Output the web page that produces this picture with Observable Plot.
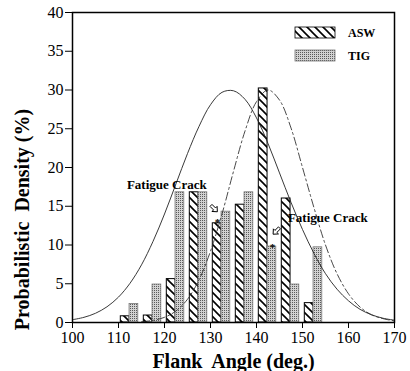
<!DOCTYPE html>
<html><head><meta charset="utf-8">
<script src="https://cdn.jsdelivr.net/npm/d3@7"></script>
<script src="https://cdn.jsdelivr.net/npm/@observablehq/plot@0.6"></script>
<style>
body{margin:0;background:#fff;}
#chart svg{display:block;}
svg text{white-space:pre;}
g[aria-label="ylabel"] text{letter-spacing:2.1px;}
</style></head><body><div id="chart"></div>
<script>
// Histogram bins (flank angle, deg.) and densities (%)
const binCenters = [112.5, 117.5, 122.5, 127.5, 132.5, 137.5, 142.5, 147.5, 152.5];
const aswDensity = [0.8, 0.9, 5.6, 16.8, 12.8, 15.2, 30.2, 16.0, 2.5];
const tigDensity = [2.4, 4.9, 16.8, 16.8, 14.3, 16.8, 9.8, 4.9, 9.7];

// Fitted curves
const tigCurveAngles = [100, 102.5, 105, 107.5, 110, 112.5, 115, 117.5, 120, 122.5, 125, 127.5, 130, 132.5, 135, 137.5, 140, 142.5, 145, 147.5, 150, 152.5, 155, 157.5, 160, 162.5, 165, 167.5, 170];
const tigCurve = [0.36, 0.67, 1.19, 2.03, 3.28, 5.06, 7.44, 10.46, 14.0, 17.9, 21.8, 25.3, 28.1, 29.7, 29.9, 28.8, 26.4, 23.1, 19.3, 15.5, 12.0, 8.9, 6.3, 4.3, 2.8, 1.7, 1.0, 0.55, 0.3];
const aswCurveAngles = [115, 117.5, 120, 122.5, 125, 127.5, 130, 132.5, 135, 137.5, 140, 142.5, 145, 147.5, 150, 152.5, 155, 157.5, 160, 162.5, 165, 167.5, 170];
const aswCurve = [0.1, 0.28, 0.67, 1.49, 3.0, 5.5, 9.2, 14.0, 19.5, 24.7, 28.5, 30.0, 28.7, 25.1, 20.0, 14.8, 10.0, 6.3, 3.7, 2.0, 1.0, 0.5, 0.2];

// Axis ticks
const xTicks = [100, 110, 120, 130, 140, 150, 160, 170];
const yTicks = [0, 5, 10, 15, 20, 25, 30, 35, 40];

// Annotations
const seriesNames = ["ASW", "TIG"];
const crackLabels = ["Fatigue Crack", "Fatigue Crack"];
const crackX = [120.5, 155.5];
const crackY = [17.8, 13.5];
const arrowX = [130.8, 144.3];
const arrowY = [14.7, 11.8];
const arrowAngle = [45, 135];
const starX = [131.5, 143.5];
const starY = [12.9, 9.7];

const asw = binCenters.map((c, i) => ({c, v: aswDensity[i]}));
const tig = binCenters.map((c, i) => ({c, v: tigDensity[i]}));
const tigLine = tigCurveAngles.map((a, i) => ({a, v: tigCurve[i]}));
const aswLine = aswCurveAngles.map((a, i) => ({a, v: aswCurve[i]}));
const cracks = crackLabels.map((t, i) => ({t, x: crackX[i], y: crackY[i]}));
const stars = starX.map((x, i) => ({x, y: starY[i]}));

// hollow block-arrow symbol, rotated by a fixed angle (degrees)
function arrowSymbol(deg) {
  const a = deg * Math.PI / 180, c = Math.cos(a), s = Math.sin(a);
  const pts = [[-4.5, -1.4], [0.5, -1.4], [0.5, -3.6], [4.5, 0], [0.5, 3.6], [0.5, 1.4], [-4.5, 1.4]];
  return {draw(ctx) {
    pts.forEach(([x, y], i) => {
      const X = x * c - y * s, Y = x * s + y * c;
      i ? ctx.lineTo(X, Y) : ctx.moveTo(X, Y);
    });
    ctx.closePath();
  }};
}

const serif = "'Liberation Serif', 'Times New Roman', serif";

const plot = Plot.plot({
  width: 410, height: 371,
  marginLeft: 72, marginRight: 16, marginTop: 12, marginBottom: 49,
  style: {fontFamily: serif, fontSize: "16px", color: "black", background: "white"},
  x: {domain: [100, 170], ticks: xTicks, tickSize: 6, tickPadding: 3, label: null},
  y: {domain: [0, 40], ticks: yTicks, tickSize: 7, tickPadding: 2, label: null},
  marks: [
    Plot.rect(asw, {x1: d => d.c - 2.0, x2: d => d.c - 0.1, y1: d => 0, y2: "v", fill: "url(#hatchASW)", stroke: "black", strokeWidth: 1}),
    Plot.rect(tig, {x1: d => d.c - 0.1, x2: d => d.c + 1.8, y1: d => 0, y2: "v", fill: "url(#stippleTIG)", stroke: "#777", strokeWidth: 0.8}),
    Plot.line(tigLine, {x: "a", y: "v", stroke: "#222", strokeWidth: 0.9, curve: "catmull-rom"}),
    Plot.line(aswLine, {x: "a", y: "v", stroke: "#333", strokeWidth: 0.9, strokeDasharray: "8,3,2,3", curve: "catmull-rom"}),
    Plot.text(cracks, {x: "x", y: "y", text: "t", fontWeight: "bold", fontSize: 13, fill: "black"}),
    ...arrowX.map((x, i) => Plot.dot([{x, y: arrowY[i]}], {x: "x", y: "y", symbol: arrowSymbol(arrowAngle[i]), r: 4, fill: "white", stroke: "black", strokeWidth: 1})),
    Plot.text(stars, {x: "x", y: "y", text: d => "*", fontSize: 11, fontWeight: "bold", fill: "black"}),
    Plot.frame({stroke: "black", strokeWidth: 1.5}),
    Plot.text(["Flank  Angle (deg.)"], {text: d => d, frameAnchor: "bottom", textAnchor: "middle", lineAnchor: "middle", dy: 39, fontSize: 20, fontWeight: "bold", fill: "black"}),
    Plot.text(["Probabilistic  Density (%)"], {text: d => d, frameAnchor: "left", textAnchor: "middle", lineAnchor: "middle", rotate: -90, dx: -50, dy: 52, fontSize: 20, fontWeight: "bold", fill: "black", ariaLabel: "ylabel"})
  ]
});

document.getElementById("chart").appendChild(plot);

const svg = d3.select(plot);
const defs = svg.insert("defs", ":first-child");
const h = defs.append("pattern").attr("id", "hatchASW").attr("patternUnits", "userSpaceOnUse").attr("width", 8).attr("height", 8);
h.append("rect").attr("width", 8).attr("height", 8).attr("fill", "white");
h.append("path").attr("d", "M0,0L8,8M-2,6L2,10M6,-2L10,2").attr("stroke", "black").attr("stroke-width", 1.6);
const s = defs.append("pattern").attr("id", "stippleTIG").attr("patternUnits", "userSpaceOnUse").attr("width", 2).attr("height", 2);
s.append("rect").attr("width", 2).attr("height", 2).attr("fill", "#d2d2d2");
s.append("rect").attr("width", 1).attr("height", 1).attr("fill", "#5a5a5a");

// Legend inside the plot area (top right)
const lg = svg.append("g").attr("aria-label", "legend").attr("text-anchor", "start");
const fills = ["url(#hatchASW)", "url(#stippleTIG)"];
const strokes = ["black", "#777"];
seriesNames.forEach((name, i) => {
  const y0 = 27 + i * 23;
  lg.append("rect").attr("x", 295).attr("y", y0).attr("width", 40).attr("height", 11)
    .attr("fill", fills[i]).attr("stroke", strokes[i]).attr("stroke-width", 0.8);
  lg.append("text").attr("x", 348).attr("y", y0 + 10).attr("text-anchor", "start").text(name)
    .attr("font-family", serif).attr("font-weight", "bold").attr("font-size", 12).attr("fill", "black");
});
</script></body></html>
